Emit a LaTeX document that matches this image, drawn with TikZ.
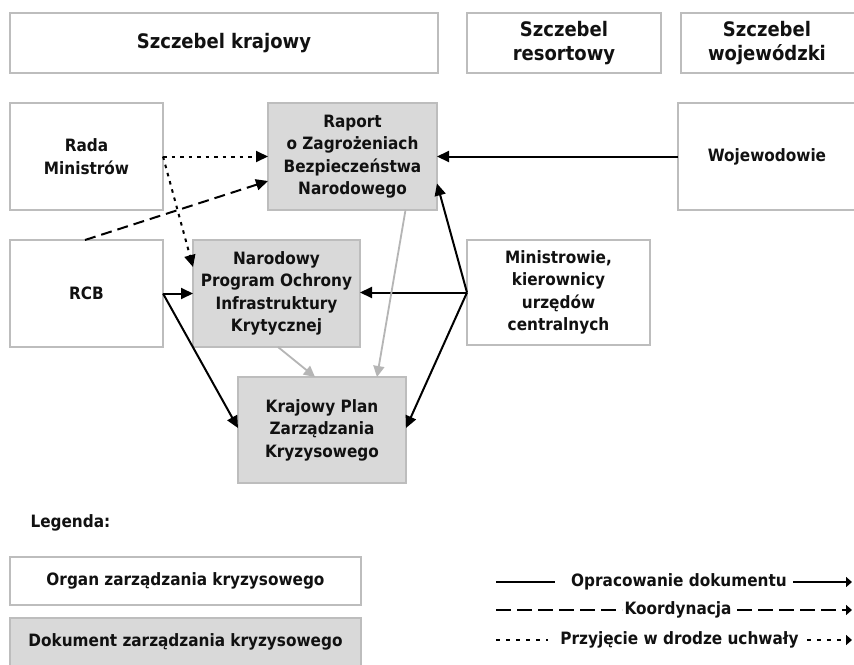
\documentclass[tikz,border=0pt]{standalone}
\usepackage{fontspec}
\setmainfont{DejaVu Sans Condensed}
\usetikzlibrary{arrows.meta}
\definecolor{bord}{HTML}{BDBDBD}
\definecolor{docfill}{HTML}{D9D9D9}
\definecolor{garr}{HTML}{B5B5B5}
\definecolor{txt}{HTML}{111111}
\begin{document}
\begin{tikzpicture}[x=1pt,y=-1pt,
  every node/.style={font=\fontsize{17}{22.5}\selectfont\bfseries, text=txt, align=center},
  hfont/.style={font=\fontsize{20}{24}\selectfont\bfseries},
  box/.style={draw=bord, line width=2.5pt, fill=white, inner sep=0pt, outer sep=0pt},
  doc/.style={box, fill=docfill},
  arr/.style={line width=2pt, -{Triangle[length=12pt,width=11pt]}},
  garrow/.style={line width=1.8pt, draw=garr, -{Triangle[length=11pt,width=11pt]}, color=garr},
  dotarr/.style={arr, dash pattern=on 3.5pt off 5pt},
  dasharr/.style={arr, dash pattern=on 11pt off 6pt},
  legtip/.style={-{Triangle[length=6pt,width=10pt]}, line width=2pt},
]
\clip (0,0) rectangle (854,664);
\fill[white] (0,0) rectangle (854,664);
% header
\node[box, hfont, minimum width=428, minimum height=60] (hkraj) at (224,43) {Szczebel krajowy};
\node[box, hfont, minimum width=194, minimum height=60] (hres) at (564,43) {Szczebel\\resortowy};
\node[box, minimum width=181, minimum height=60, anchor=west] (hwoj) at (681,43) {};
\node[hfont] (hwojt) at (767,43) {Szczebel\\wojewódzki};
% row 1
\node[box, minimum width=153, minimum height=107] (rada) at (86.5,156.5) {Rada\\Ministrów};
\node[doc, minimum width=169, minimum height=107] (raport) at (352.5,156.5) {Raport\\o Zagrożeniach\\Bezpieczeństwa\\Narodowego};
\node[box, minimum width=184, minimum height=107, anchor=west] (wojb) at (678,156.5) {};
\node (wojt) at (767,156.5) {Wojewodowie};
% row 2
\node[box, minimum width=153, minimum height=107] (rcb) at (86.5,293.5) {RCB};
\node[doc, minimum width=167, minimum height=107] (narod) at (276.5,293.5) {Narodowy\\Program Ochrony\\Infrastruktury\\Krytycznej};
\node[box, minimum width=183, minimum height=105] (min) at (558.5,292.5) {Ministrowie,\\kierownicy\\urzędów\\centralnych};
% row 3
\node[doc, minimum width=168, minimum height=106] (kp) at (322,430) {Krajowy Plan\\Zarządzania\\Kryzysowego};
% connectors
\draw[dotarr] (rada.east) -- (raport.west);
\draw[dotarr] (rada.east) -- ([yshift=-27pt]narod.north west);
\draw[dasharr] ([xshift=-1.5pt]rcb.north) -- ([yshift=-24.5pt]raport.west);
\draw[arr] (rcb.east) -- (narod.west);
\draw[arr] (rcb.east) -- ([yshift=2pt]kp.west);
\draw[arr] (min.west) -- (min.west -| narod.east);
\draw[arr] (min.west) -- ([yshift=-27pt]raport.east);
\draw[arr] (min.west) -- ([yshift=2pt]kp.east);
\draw[arr] (wojb.west) -- (raport.east);
\draw[garrow] ([xshift=-31.5pt]raport.south east) -- ([xshift=55pt]kp.north);
\draw[garrow] ([xshift=1.5pt]narod.south) -- ([xshift=-7pt]kp.north);
% legend
\node[anchor=west] (leg) at (27,523) {Legenda:};
\node[box, minimum width=351, minimum height=48] (lorg) at (185.5,581) {Organ zarządzania kryzysowego};
\node[doc, minimum width=351, minimum height=48] (ldok) at (185.5,642) {Dokument zarządzania kryzysowego};
\node (l1) at (679,582) {Opracowanie dokumentu};
\node (l2) at (678,610) {Koordynacja};
\node (l3) at (679.5,640) {Przyjęcie w drodze uchwały};
\coordinate (l1a) at (496,582); \coordinate (l1b) at (555,582);
\coordinate (l1c) at (793,582); \coordinate (l1d) at (852,582);
\coordinate (l2a) at (496,610); \coordinate (l2b) at (622,610);
\coordinate (l2c) at (737,610); \coordinate (l2d) at (852,610);
\coordinate (l3a) at (496,640); \coordinate (l3b) at (548,640);
\coordinate (l3c) at (807,640); \coordinate (l3d) at (852,640);
\draw[line width=2pt] (l1a) -- (l1b);
\draw[legtip] (l1c) -- (l1d);
\draw[line width=2pt, dash pattern=on 15pt off 6pt] (l2a) -- (l2b);
\draw[legtip, dash pattern=on 15pt off 6pt] (l2c) -- (l2d);
\draw[line width=2pt, dash pattern=on 4pt off 6pt] (l3a) -- (l3b);
\draw[legtip, dash pattern=on 4pt off 6pt] (l3c) -- (l3d);
\end{tikzpicture}
\end{document}
